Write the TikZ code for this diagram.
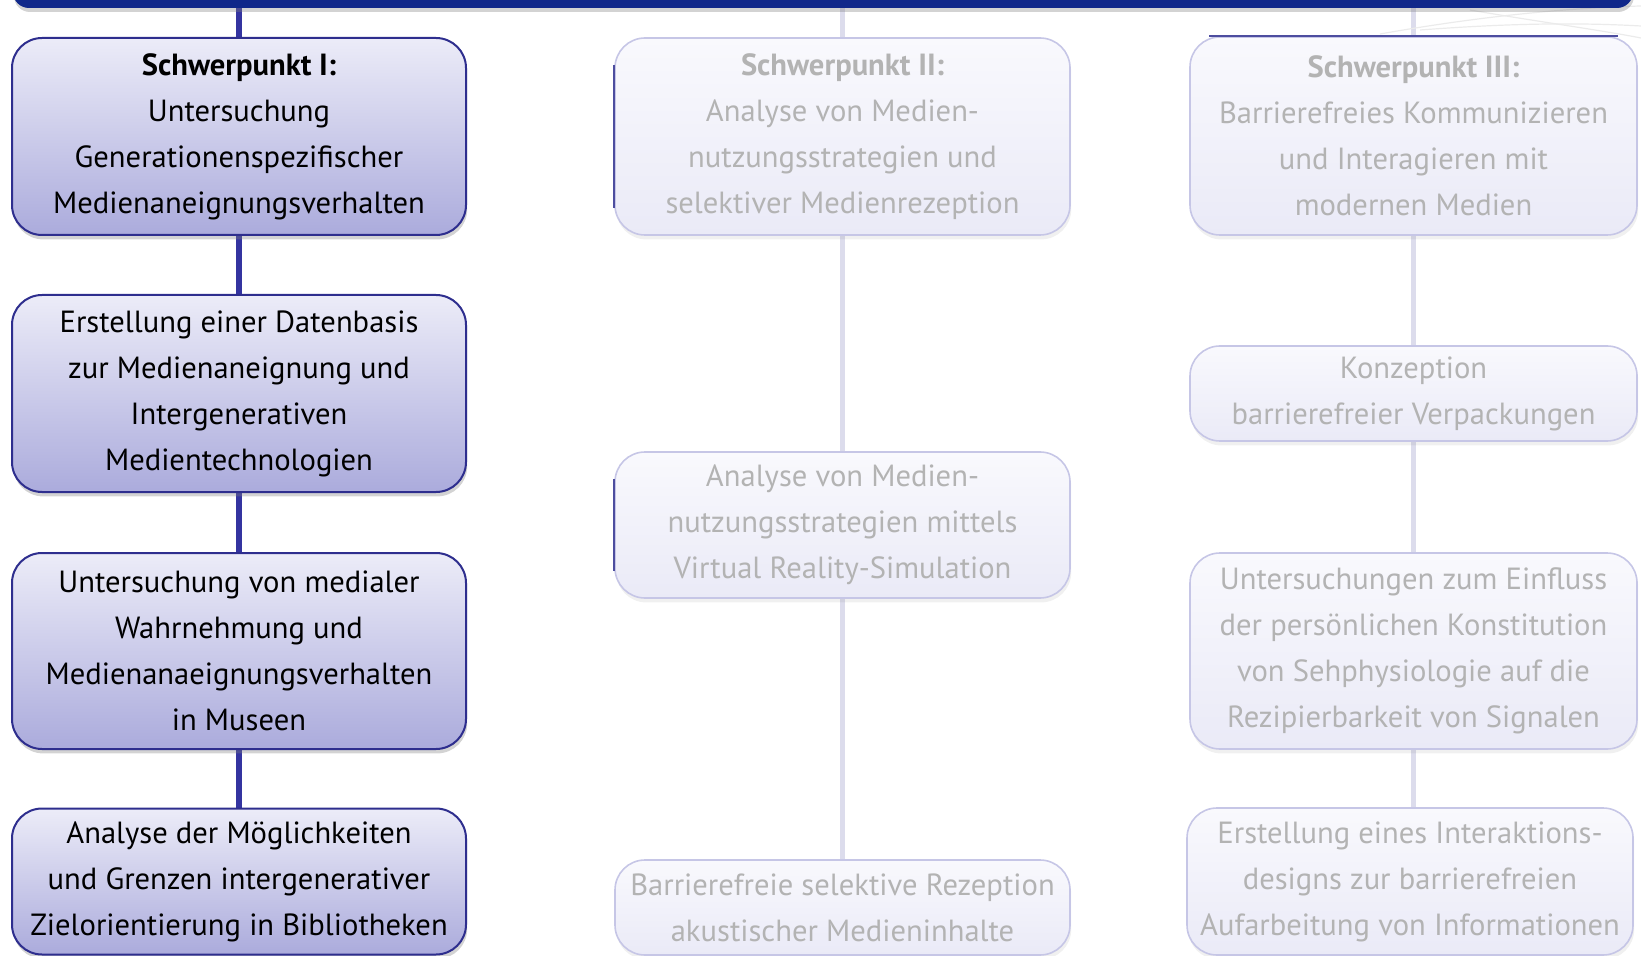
\documentclass[tikz,border=0pt]{standalone}
\usepackage{fontspec}
\setmainfont{PT Sans}
\usetikzlibrary{shadows,backgrounds}
\definecolor{barblue}{HTML}{10288A}
\definecolor{lineblue}{HTML}{3434A0}
\definecolor{boxborder}{HTML}{2E2E8E}
\definecolor{boxtop}{HTML}{ECECF8}
\definecolor{boxbot}{HTML}{ABABDC}
\definecolor{fadetop}{HTML}{F9F9FD}
\definecolor{fadebot}{HTML}{EAEAF7}
\definecolor{fadeborder}{HTML}{C6C6E6}
\definecolor{fadetext}{HTML}{B3B3B3}
\definecolor{fadeline}{HTML}{DCDCEC}
\begin{document}
\begin{tikzpicture}[x=0.5pt,y=-0.5pt,
  mainbox/.style={draw=boxborder, line width=1pt, rounded corners=15pt,
    top color=boxtop, bottom color=boxbot, align=center, inner sep=0pt,
    minimum width=227pt, font=\fontsize{15.3}{23}\selectfont,
    drop shadow={shadow xshift=0.6pt, shadow yshift=-2.2pt, opacity=0.35}},
  fadebox/.style={draw=fadeborder, line width=0.8pt, rounded corners=15pt,
    top color=fadetop, bottom color=fadebot, align=center, inner sep=0pt,
    text=fadetext, font=\fontsize{15.3}{23}\selectfont,
    drop shadow={shadow xshift=0.6pt, shadow yshift=-2.2pt, opacity=0.12}},
  mainline/.style={draw=lineblue, line width=2.6pt},
  fadeline/.style={draw=fadeline, line width=2.6pt},
  edgeline/.style={draw=boxborder!85, line width=0.8pt},
  swoosh/.style={draw=black!8, line width=0.6pt}
]
\useasboundingbox (0,0) rectangle (1641,956);

% decorative swooshes
\draw[swoosh] (1380,34) .. controls (1470,18) and (1560,8) .. (1641,6);
\draw[swoosh] (1420,30) .. controls (1500,24) and (1570,22) .. (1641,26);
\draw[swoosh] (1470,10) .. controls (1540,22) and (1600,30) .. (1641,38);

% top bar
\node[fill=barblue, rounded corners=8pt, minimum width=810pt, minimum height=19pt,
      inner sep=0pt, drop shadow={shadow xshift=0.5pt, shadow yshift=-2pt, opacity=0.35}]
      (bar) at (823,-11) {};

% column I
\node[mainbox, minimum height=98.5pt] (A1) at (239,136.5)
  {\textbf{Schwerpunkt I:}\\Untersuchung\\Generationenspezifischer\\Medienaneignungsverhalten};
\node[mainbox, minimum height=98.5pt] (A2) at (239,393.5)
  {Erstellung einer Datenbasis\\zur Medienaneignung und\\Intergenerativen\\Medientechnologien};
\node[mainbox, minimum height=98pt] (A3) at (239,651)
  {Untersuchung von medialer\\Wahrnehmung und\\Medienanaeignungsverhalten\\in Museen};
\node[mainbox, minimum height=73pt] (A4) at (239,881.5)
  {Analyse der Möglichkeiten\\und Grenzen intergenerativer\\Zielorientierung in Bibliotheken};

% column II
\node[fadebox, minimum width=227.5pt, minimum height=98.5pt] (B1) at (842.5,136.5)
  {\textbf{Schwerpunkt II:}\\Analyse von Medien-\\nutzungsstrategien und\\selektiver Medienrezeption};
\node[fadebox, minimum width=227.5pt, minimum height=73pt] (B2) at (842.5,525)
  {Analyse von Medien-\\nutzungsstrategien mittels\\Virtual Reality-Simulation};
\node[fadebox, minimum width=227.5pt, minimum height=47.5pt] (B3) at (842.5,907.5)
  {Barrierefreie selektive Rezeption\\akustischer Medieninhalte};

% column III
\node[fadebox, minimum width=223.5pt, minimum height=99pt] (C1) at (1413.5,136)
  {\textbf{Schwerpunkt III:}\\Barrierefreies Kommunizieren\\und Interagieren mit\\modernen Medien};
\node[fadebox, minimum width=223.5pt, minimum height=47.5pt] (C2) at (1413.5,393.5)
  {Konzeption\\barrierefreier Verpackungen};
\node[fadebox, minimum width=223.5pt, minimum height=98pt] (C3) at (1413.5,651)
  {Untersuchungen zum Einfluss\\der persönlichen Konstitution\\von Sehphysiologie auf die\\Rezipierbarkeit von Signalen};
\node[fadebox, minimum width=223pt, minimum height=73.5pt] (C4) at (1410,881.5)
  {Erstellung eines Interaktions-\\designs zur barrierefreien\\Aufarbeitung von Informationen};

% edge artefacts
\draw[edgeline] ([yshift=-14pt]B1.north west) -- ([yshift=14pt]B1.south west);
\draw[edgeline] ([yshift=-14pt]B2.north west) -- ([yshift=14pt]B2.south west);
\draw[edgeline] ([xshift=10pt]C1.north west) -- ([xshift=-10pt]C1.north east);

% connectors
\begin{scope}[on background layer]
\draw[mainline] (A1.north |- bar.south) -- (A1.north);
\draw[mainline] (A1.south) -- (A2.north);
\draw[mainline] (A2.south) -- (A3.north);
\draw[mainline] (A3.south) -- (A4.north);
\draw[fadeline] (B1.north |- bar.south) -- (B1.north);
\draw[fadeline] (B1.south) -- (B2.north);
\draw[fadeline] (B2.south) -- (B3.north);
\draw[fadeline] (C1.north |- bar.south) -- (C1.north);
\draw[fadeline] (C1.south) -- (C2.north);
\draw[fadeline] (C2.south) -- (C3.north);
\draw[fadeline] (C3.south) -- (C3.south |- C4.north);
\end{scope}
\end{tikzpicture}
\end{document}
